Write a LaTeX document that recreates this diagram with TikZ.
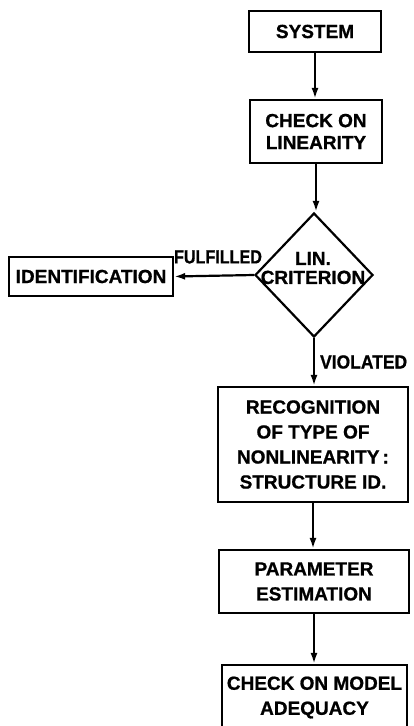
\documentclass[tikz,border=0pt]{standalone}
\usepackage{fontspec}
\setmainfont{Liberation Sans}[BoldFeatures={FakeBold=0.8}]
\usetikzlibrary{shapes.geometric,arrows.meta}
\begin{document}
\begin{tikzpicture}[x=1pt,y=-1pt,
  every node/.style={font=\fontsize{19}{25}\selectfont\bfseries},
  box/.style={draw,line width=2.2pt,rectangle,align=center,inner sep=0pt},
  conn/.style={line width=2.2pt,-{Latex[length=11pt,width=7pt]}},
  lbl/.style={inner sep=0pt}]
\useasboundingbox (0,0) rectangle (414,726);
\clip (0,0) rectangle (414,726);
\fill[white] (0,0) rectangle (414,726);
\node[box,minimum width=132pt,minimum height=41pt] (sys) at (315,31.5) {SYSTEM};
\node[box,minimum width=132pt,minimum height=63pt,font=\fontsize{19}{22}\selectfont\bfseries] (chk) at (316,131.5) {CHECK ON\\LINEARITY};
\node[draw,line width=2.2pt,diamond,minimum width=118pt,minimum height=124pt,inner sep=0pt] (crit) at (314,275) {};
\node[lbl,align=center,font=\fontsize{19}{19}\selectfont\bfseries] (crittext) at (313,268) {LIN.\\CRITERION};
\node[box,minimum width=164pt,minimum height=39pt] (ident) at (91,276.5) {IDENTIFICATION};
\node[box,minimum width=190pt,minimum height=115pt] (recog) at (313,444.5) {RECOGNITION\\OF TYPE OF\\NONLINEARITY\,:\\STRUCTURE ID.};
\node[box,minimum width=190pt,minimum height=63pt] (param) at (314,581.5) {PARAMETER\\ESTIMATION};
\node[box,minimum width=185pt,minimum height=65pt] (model) at (314.5,697.5) {CHECK ON MODEL\\ADEQUACY};
\draw[conn] (sys.south) -- (sys.south |- chk.north);
\draw[conn] (chk.south) -- (chk.south |- crit.north);
\draw[conn] (crit.west) -- node[lbl,pos=0.45,above=11pt] (ful) {\scalebox{0.85}[1]{FULFILLED}} (ident.east);
\draw[conn] (crit.south) -- node[lbl,midway,right=5pt] (vio) {\scalebox{0.92}[1]{VIOLATED}} (crit.south |- recog.north);
\draw[conn] (recog.south) -- (recog.south |- param.north);
\draw[conn] (param.south) -- (param.south |- model.north);
\end{tikzpicture}
\end{document}
